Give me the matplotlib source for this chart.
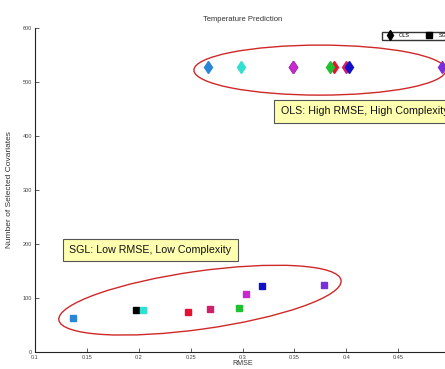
import matplotlib
matplotlib.use("Agg")
import matplotlib.pyplot as plt
from matplotlib.patches import Ellipse
from matplotlib.transforms import ScaledTranslation
from matplotlib.lines import Line2D

plt.rcParams['font.family'] = ['Liberation Sans', 'DejaVu Sans']

# method colours (same order for both models)
colors = ['#2a86d8', '#000000', '#30e0d0', '#e81030', '#d0206a',
          '#20c030', '#c828d0', '#1010c8', '#7a30d8']

# OLS: RMSE / number of selected covariates
ols_rmse = [0.267, 0.349, 0.299, 0.388, 0.400, 0.384, 0.3486, 0.403, 0.492]
ols_cov = [528, 528, 528, 528, 528, 528, 528, 528, 528]

# SGL
sgl_rmse = [0.137, 0.197, 0.204, 0.247, 0.269, 0.297, 0.303, 0.319, 0.379]
sgl_cov = [63, 78, 78, 74, 80, 81, 107, 122, 124]

xticks = [0.1, 0.15, 0.2, 0.25, 0.3, 0.35, 0.4, 0.45]
yticks = [0, 100, 200, 300, 400, 500, 600]

fig = plt.figure(figsize=(4.45, 3.69), dpi=100)
ax = fig.add_axes([35 / 445, 17 / 369, 415 / 445, 324 / 369])

for i in range(len(colors)):
    ax.plot(ols_rmse[i], ols_cov[i], 'd', color=colors[i], markersize=6.5,
            markeredgecolor=colors[i])
for i in range(len(colors)):
    ax.plot(sgl_rmse[i], sgl_cov[i], 's', color=colors[i], markersize=5,
            markeredgecolor=colors[i])

ax.set_xlim(0.1, 0.5)
ax.set_ylim(0, 600)
ax.set_xticks(xticks)
ax.set_xticklabels([f'{t:g}' for t in xticks])
ax.set_yticks(yticks)
ax.tick_params(direction='in', labelsize=4, colors='#444', length=3, width=0.6, pad=2)
for s in ['top', 'right']:
    ax.spines[s].set_visible(False)
for s in ['left', 'bottom']:
    ax.spines[s].set_linewidth(0.8)
    ax.spines[s].set_color('#222')

ax.set_title('Temperature Prediction', fontsize=5.5, color='#333', pad=5)
ax.set_xlabel('RMSE', fontsize=5, color='#333', labelpad=0)
ax.set_ylabel('Number of Selected Covariates', fontsize=6, color='#333')
ax.yaxis.set_label_coords(-0.053, 0.5)

# ellipses sized in pixels, centred on data points
e1 = Ellipse((0, 0), 252, 50, fill=False, edgecolor='#d02828', linewidth=1,
             transform=ScaledTranslation(0.3746, 522, ax.transData), clip_on=False)
e2 = Ellipse((0, 0), 285, 58, angle=8, fill=False, edgecolor='#d02828', linewidth=1,
             transform=ScaledTranslation(0.259, 96, ax.transData), clip_on=False)
ax.add_patch(e1)
ax.add_patch(e2)

box = dict(boxstyle='square,pad=0.6', facecolor='#ffffb0', edgecolor='#555', linewidth=0.8)
ax.text(0.337, 446, 'OLS: High RMSE, High Complexity', fontsize=7.7, va='center',
        bbox=box, color='#111')
ax.text(0.133, 189, 'SGL: Low RMSE, Low Complexity', fontsize=7.7, va='center',
        bbox=box, color='#111')

handles = [Line2D([], [], marker='d', color='k', linestyle='none', markersize=5),
           Line2D([], [], marker='s', color='k', linestyle='none', markersize=4)]
fig.legend(handles, ['OLS', 'SGL'], loc='upper left', bbox_to_anchor=(379 / 445, 1 - 29 / 369),
           ncol=2, fontsize=4, frameon=True, fancybox=False, edgecolor='k',
           handlelength=2.2, columnspacing=2.5, borderpad=0.3, handletextpad=0.5)

fig.savefig('out.png', dpi=100)
